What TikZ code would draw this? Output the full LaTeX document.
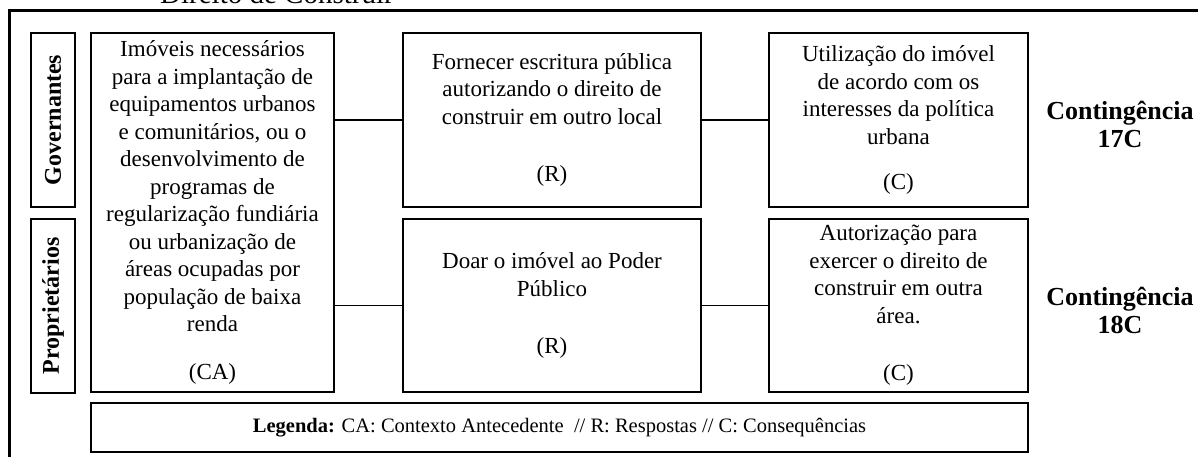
\documentclass[tikz,border=0pt]{standalone}
\usepackage{fontspec}
\setmainfont{Liberation Serif}

\begin{document}
\begin{tikzpicture}
  [x=1pt, y=-1pt,
    box/.style={%
      draw, line width=1.6pt, inner sep=0pt, align=center,
      font=\fontsize{23}{27.5}\selectfont
    },
    actor/.style={%
      box, rotate=90, minimum width=174pt, minimum height=44pt,
      font=\fontsize{24}{28}\selectfont\bfseries
    },
    cont/.style={%
      align=center, inner sep=0pt,
      font=\fontsize{26}{28}\selectfont\bfseries
    },
  ]
  \useasboundingbox (0,0) rectangle (1198,457);

  % outer frame and cut title
  \node[anchor=base west, inner sep=0pt, font=\fontsize{29}{32}\selectfont]
    (title) at (160,4) {Direito de Construir};
  \draw[line width=3pt] (9,11) rectangle (1230,490);

  \node[actor] (gov)  at (53,120)   {Governantes};
  \node[actor] (prop) at (53,306)   {Proprietários};

  \node[box, minimum width=243pt, minimum height=359pt] (ca) at (212.5,212.5)
    {Imóveis necessários\\para a implantação de\\equipamentos urbanos\\
     e comunitários, ou o\\desenvolvimento de\\programas de\\
     regularização fundiária\\ou urbanização de\\áreas ocupadas por\\
     população de baixa\\renda\\[20pt](CA)};

  \node[box, minimum width=298pt, minimum height=174pt] (r1) at (552,120)
    {Fornecer escritura pública\\autorizando o direito de\\
     construir em outro local\\[30pt](R)};
  \node[box, minimum width=298pt, minimum height=173pt] (r2) at (552,305.5)
    {Doar o imóvel ao Poder\\Público\\[30pt](R)};

  \node[box, minimum width=259pt, minimum height=174pt] (c1) at (898.5,120)
    {Utilização do imóvel\\de acordo com os\\interesses da política\\
     urbana\\[18pt](C)};
  \node[box, minimum width=259pt, minimum height=173pt] (c2) at (898.5,305.5)
    {Autorização para\\exercer o direito de\\construir em outra\\
     área.\\[30pt](C)};

  \node[cont] (k17) at (1120,124) {Contingência\\17C};
  \node[cont] (k18) at (1120,310) {Contingência\\18C};

  \node[box, minimum width=937pt, minimum height=49pt,
        font=\fontsize{20.5}{24}\selectfont] (leg) at (559.5,427.5)
    {\textbf{Legenda:} CA: Contexto Antecedente \ // R: Respostas // C: Consequências};

  \draw[line width=1.6pt] (r1.west -| ca.east) -- (r1.west);
  \draw[line width=1.6pt] (r2.west -| ca.east) -- (r2.west);
  \draw[line width=1.6pt] (r1.east) -- (c1.west);
  \draw[line width=1.6pt] (r2.east) -- (c2.west);

\end{tikzpicture}
\end{document}
